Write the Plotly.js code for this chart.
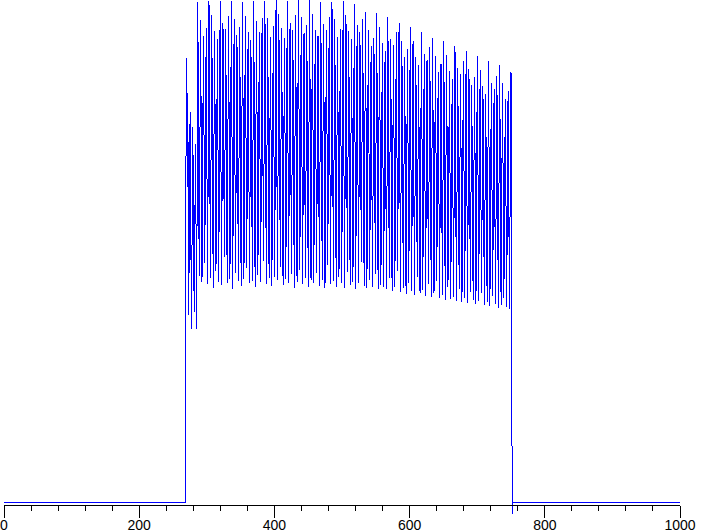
<!DOCTYPE html>
<html>
<head>
<meta charset="utf-8">
<script src="https://cdn.plot.ly/plotly-3.0.1.min.js"></script>
<style>
  html, body { margin: 0; padding: 0; background: #ffffff; }
  #chart { width: 707px; height: 532px; }
</style>
</head>
<body>
<div id="chart"></div>
<script>
// ---- data (time in ms, level in relative units, baseline = 0) ----
const tickValues = [0, 200, 400, 600, 800, 1000];
const tickLabels = ["0", "200", "400", "600", "800", "1000"];
const unitLabel = "мс";

// flat baseline before the light turns on
const preTimes = [0, 268.9];
const preValues = [0, 0];

// switch-on transient
const riseTimes = [268.9, 270.4, 271.2, 271.9, 273.3, 275.3, 277.3, 279.3, 281.3, 283.3, 285.0];
const riseValues = [63.0, 88.8, 63.0, 81.8, 37.4, 78.0, 34.6, 75.0, 38.0, 71.6, 34.6];

// main flicker: one peak and one trough per cycle
const cycleStart = 286.7;   // ms, first full peak
const cyclePeriod = 4.135;  // ms
const peaks = [
  100.0, 96.4, 93.2, 94.8,
  100.2, 97.4, 94.2, 92.6,
  100.2, 95.8, 94.6, 97.2,
  100.2, 96.6, 93.4, 95.0,
  100.0, 97.2, 94.0, 92.4,
  100.2, 96.2, 94.0, 96.8,
  100.2, 96.8, 93.0, 95.2,
  100.6, 97.6, 94.8, 92.8,
  100.2, 95.8, 94.4, 97.4,
  100.6, 97.0, 93.8, 95.4,
  100.6, 97.6, 94.4, 93.2,
  100.0, 95.6, 94.4, 97.0,
  100.0, 96.6, 93.0, 94.6,
  100.2, 97.4, 94.2, 92.6,
  99.6, 95.4, 94.0, 96.6,
  98.0, 94.4, 91.2, 92.8,
  97.8, 95.0, 91.8, 90.2,
  97.0, 92.6, 91.4, 94.0,
  95.8, 92.2, 89.0, 90.6,
  95.0, 92.2, 89.0, 87.4,
  94.0, 89.6, 88.4, 91.0,
  92.8, 89.2, 86.0, 87.6,
  92.2, 89.4, 86.2, 84.6,
  91.2, 86.8, 85.6, 88.2,
  90.2, 86.6, 83.4, 85.0,
  89.2, 86.4, 83.2, 81.6,
  88.2, 83.8, 82.6, 85.2,
  87.4, 83.8, 80.6, 82.2,
  86.0
];
const troughs = [
  45.2, 44.0, 47.8, 43.6, 44.8, 42.8, 46.2, 44.0, 43.4, 49.0, 43.8, 44.6, 42.6, 45.8, 44.2, 43.2,
  44.6, 46.8, 43.8, 44.2, 43.0, 45.4, 44.0, 48.2, 43.6, 44.8, 43.2, 45.0, 44.4, 47.0, 43.4, 44.6,
  43.8, 45.6, 42.8, 44.0, 46.4, 43.6, 44.8, 43.0, 44.4,
  43.8, 45.8, 43.2, 44.4, 42.8, 47.4, 43.6, 44.2, 43.0, 45.0, 43.8, 42.8, 46.0, 43.4, 44.0, 42.6,
  43.8, 48.0, 43.2, 42.8, 44.4, 43.0, 45.6, 42.6, 43.4,
  43.0, 42.6, 44.8, 42.2, 43.0, 46.2, 42.0, 42.8, 41.6, 43.8, 42.2, 41.4, 45.0, 41.8, 42.4, 41.2,
  43.6, 41.0, 41.8, 44.2,
  40.8, 41.4, 40.4, 43.0, 40.6, 41.0, 40.2, 42.6, 40.0, 40.8, 39.8, 42.0, 40.4, 39.6, 40.2, 41.8,
  39.4, 40.0, 39.2, 41.2, 39.6, 38.8, 39.4, 40.8, 39.0, 38.6
];

// switch-off: last wiggle, undershoot, back to baseline
const endTimes = [750.4, 750.8, 751.2, 751.6, 752.1, 1000];
const endValues = [74.0, 85.0, 50.6, -2.4, 0, 0];

// ---- assemble the single trace ----
const xs = [], ys = [];
preTimes.forEach((t, i) => { xs.push(t); ys.push(preValues[i]); });
riseTimes.forEach((t, i) => { xs.push(t); ys.push(riseValues[i]); });
peaks.forEach((p, i) => {
  const t = cycleStart + i * cyclePeriod;
  xs.push(t); ys.push(p);
  if (i < troughs.length) { xs.push(t + cyclePeriod / 2); ys.push(troughs[i]); }
});
endTimes.forEach((t, i) => { xs.push(t); ys.push(endValues[i]); });

const trace = {
  x: xs, y: ys,
  type: 'scatter', mode: 'lines',
  line: { color: '#0000ff', width: 1 },
  hoverinfo: 'skip'
};

const fontFamily = 'Liberation Sans, Arial, Helvetica, sans-serif';

const layout = {
  width: 707, height: 532,
  margin: { l: 4, r: 27, t: 0, b: 0, pad: 0 },
  paper_bgcolor: '#ffffff', plot_bgcolor: '#ffffff',
  showlegend: false,
  xaxis: {
    range: [0, 1000],
    anchor: 'free', position: 27.5 / 532,
    tickmode: 'array', tickvals: tickValues, ticktext: tickLabels,
    ticks: 'outside', ticklen: 12, tickwidth: 1, tickcolor: '#000000',
    ticklabelstandoff: -4,
    minor: { dtick: 40, tick0: 0, ticks: 'outside', ticklen: 5, tickwidth: 1, tickcolor: '#000000', showgrid: false },
    showline: true, linecolor: '#000000', linewidth: 1,
    showgrid: false, zeroline: false,
    tickfont: { family: fontFamily, size: 14, color: '#000000' },
    fixedrange: true
  },
  yaxis: {
    range: [-6.0, 100.4],
    visible: false, showgrid: false, zeroline: false, fixedrange: true
  },
  annotations: [{
    text: unitLabel, xref: 'x', yref: 'y', x: 1024, y: -0.3,
    showarrow: false, xanchor: 'center', yanchor: 'middle',
    font: { family: fontFamily, size: 12, color: '#000000' }
  }]
};

Plotly.newPlot('chart', [trace], layout, { displayModeBar: false, staticPlot: true }).then(() => {
  document.querySelectorAll('.scatterlayer path').forEach(p => { p.style.shapeRendering = 'crispEdges'; });
});
</script>
</body>
</html>
